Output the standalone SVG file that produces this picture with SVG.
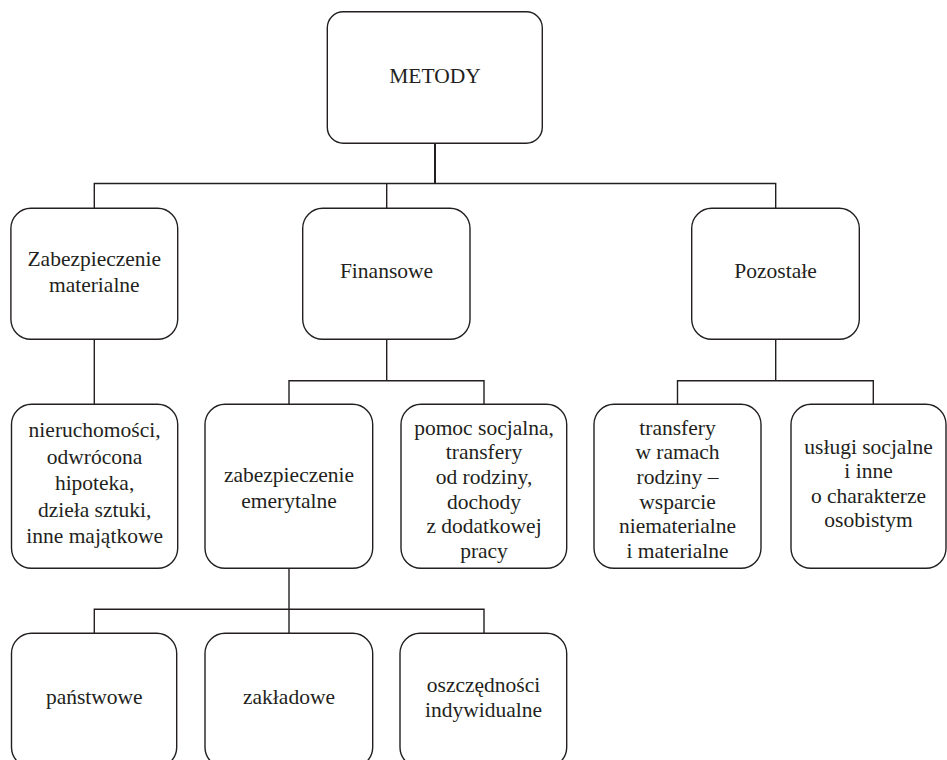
<svg xmlns="http://www.w3.org/2000/svg" width="947" height="760" viewBox="0 0 947 760">
<style>
.box{fill:#fff;stroke:#231f20;stroke-width:1.4}
.t{font-family:"Liberation Serif","Times New Roman",serif;font-size:21.5px;fill:#231f20;text-anchor:middle}
.c{fill:none;stroke:#231f20;stroke-width:1.4}
</style>
<rect width="947" height="760" fill="#fff"/>
<g id="connectors">
<line class="c" x1="435" y1="143" x2="435" y2="183.5" style="stroke-width:2"/>
<polyline class="c" points="94.3,208 94.3,183.5 775.7,183.5 775.7,208"/>
<line class="c" x1="386.7" y1="183.5" x2="386.7" y2="208"/>
<line class="c" x1="94.3" y1="339" x2="94.3" y2="404"/>
<line class="c" x1="386.7" y1="339" x2="386.7" y2="380.7"/>
<polyline class="c" points="289,404 289,380.7 484,380.7 484,404"/>
<line class="c" x1="775.7" y1="339" x2="775.7" y2="380.7"/>
<polyline class="c" points="677.5,404 677.5,380.7 873.3,380.7 873.3,404"/>
<line class="c" x1="289" y1="568" x2="289" y2="633"/>
<polyline class="c" points="94.3,633 94.3,609.3 484,609.3 484,633"/>
</g>
<g id="metody"><rect class="box" x="327.3" y="11.7" width="215" height="131.6" rx="16"/><text class="t" x="435" y="83">METODY</text></g>
<g id="zabezpieczenie-materialne"><rect class="box" x="10.9" y="208.3" width="166.8" height="131" rx="20"/><text class="t" x="94.3" y="265.7">Zabezpieczenie</text><text class="t" x="94.3" y="291.7">materialne</text></g>
<g id="finansowe"><rect class="box" x="302.7" y="208.3" width="167.3" height="131" rx="20"/><text class="t" x="386.5" y="278.3">Finansowe</text></g>
<g id="pozostale"><rect class="box" x="691.7" y="208.3" width="167.6" height="131" rx="20"/><text class="t" x="775.5" y="278.3">Pozostałe</text></g>
<g id="nieruchomosci"><rect class="box" x="11.5" y="404.3" width="166.2" height="164" rx="20"/><text class="t" x="94.6" y="437">nieruchomości,</text><text class="t" x="94.6" y="463.5">odwrócona</text><text class="t" x="94.6" y="490">hipoteka,</text><text class="t" x="94.6" y="516.5">dzieła sztuki,</text><text class="t" x="94.6" y="543">inne majątkowe</text></g>
<g id="zabezpieczenie-emerytalne"><rect class="box" x="205" y="404.3" width="167.7" height="164" rx="20"/><text class="t" x="289" y="481.5">zabezpieczenie</text><text class="t" x="289" y="507.5">emerytalne</text></g>
<g id="pomoc-socjalna"><rect class="box" x="401" y="404.3" width="165.7" height="164" rx="20"/><text class="t" x="484" y="434.5">pomoc socjalna,</text><text class="t" x="484" y="459.2">transfery</text><text class="t" x="484" y="483.9">od rodziny,</text><text class="t" x="484" y="508.6">dochody</text><text class="t" x="484" y="533.3">z dodatkowej</text><text class="t" x="484" y="558">pracy</text></g>
<g id="transfery"><rect class="box" x="594" y="404.3" width="167" height="164" rx="20"/><text class="t" x="677.5" y="434.5">transfery</text><text class="t" x="677.5" y="459.2">w ramach</text><text class="t" x="677.5" y="483.9">rodziny –</text><text class="t" x="677.5" y="508.6">wsparcie</text><text class="t" x="677.5" y="533.3">niematerialne</text><text class="t" x="677.5" y="558">i materialne</text></g>
<g id="uslugi"><rect class="box" x="791" y="404.3" width="155" height="164" rx="20"/><text class="t" x="868.5" y="453.5">usługi socjalne</text><text class="t" x="868.5" y="478">i inne</text><text class="t" x="868.5" y="502.5">o charakterze</text><text class="t" x="868.5" y="527">osobistym</text></g>
<g id="panstwowe"><rect class="box" x="11.5" y="633.3" width="165.2" height="134" rx="20"/><text class="t" x="94.3" y="704">państwowe</text></g>
<g id="zakladowe"><rect class="box" x="205" y="633.3" width="167.7" height="134" rx="20"/><text class="t" x="289" y="704">zakładowe</text></g>
<g id="oszczednosci"><rect class="box" x="400" y="633.3" width="166.7" height="134" rx="20"/><text class="t" x="483.5" y="691.5">oszczędności</text><text class="t" x="483.5" y="717">indywidualne</text></g>
</svg>
